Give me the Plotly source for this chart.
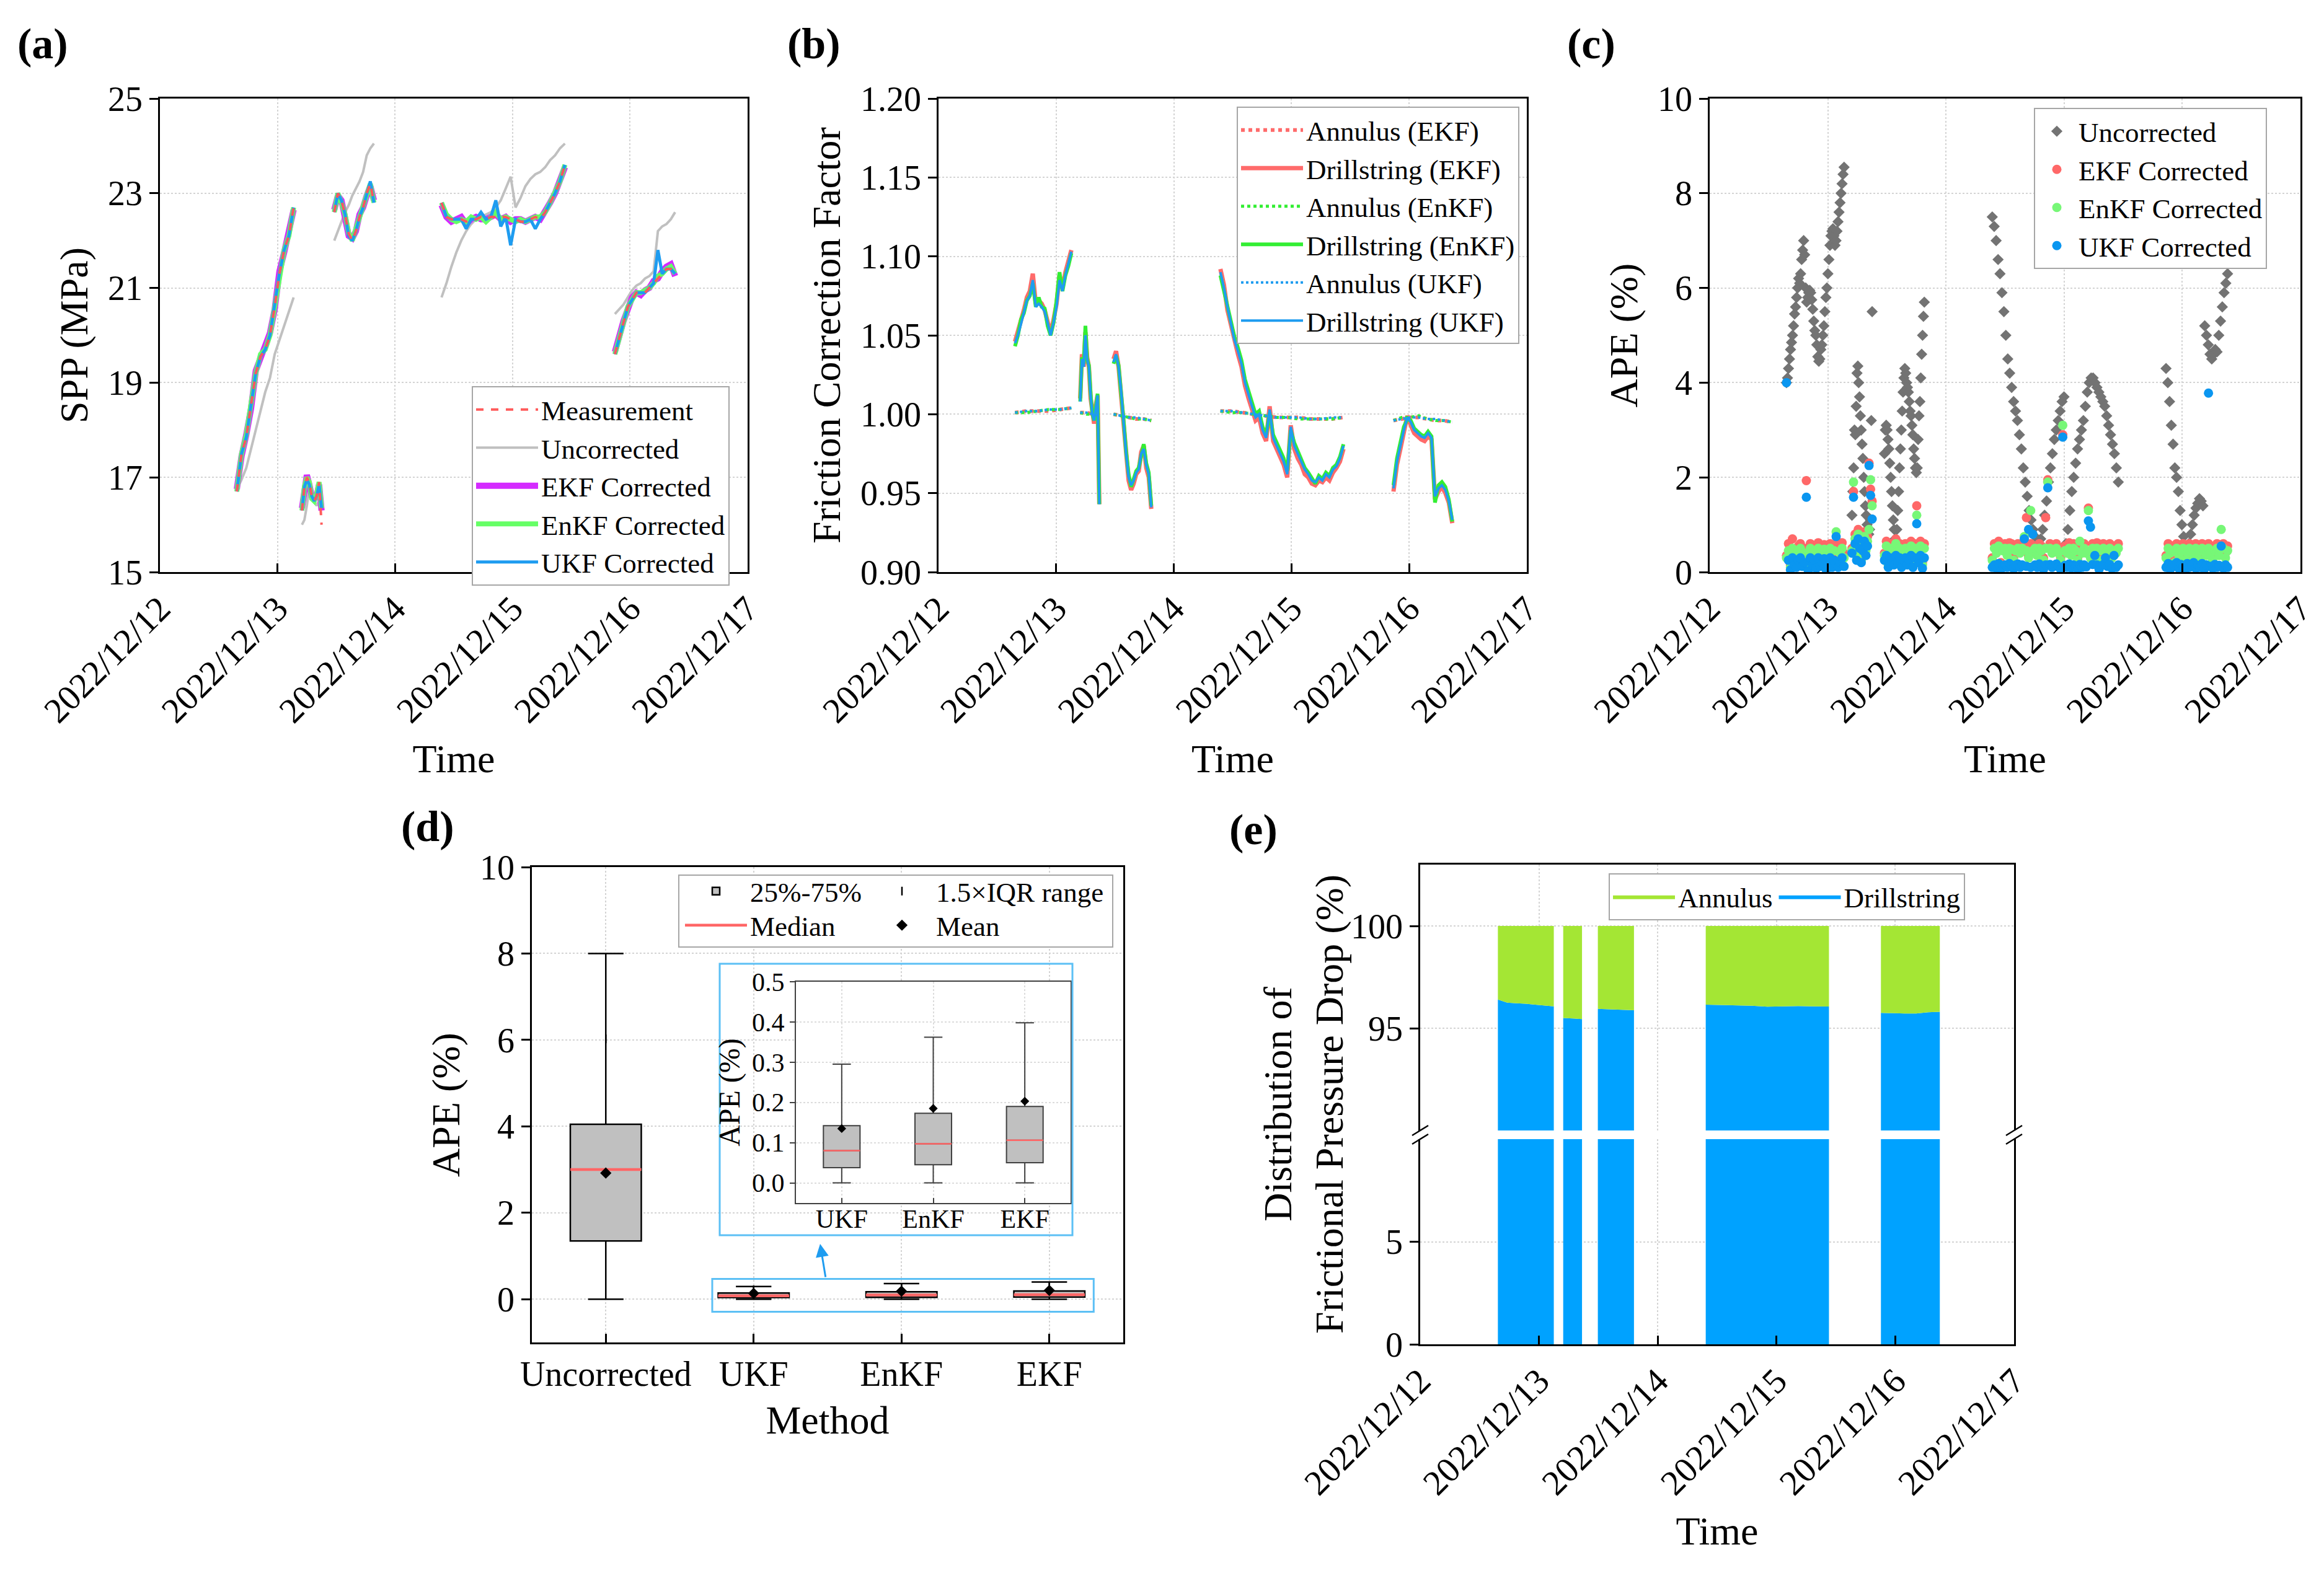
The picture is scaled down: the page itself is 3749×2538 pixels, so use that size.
import numpy as np
import pandas as pd
import plotly.graph_objects as go

FONT = "Liberation Serif"
BASE = pd.Timestamp("2022-12-12 00:00")
W, H = 3749, 2538

# ---------------- (a) SPP ----------------
# segments: (start hour, end hour) counted from 2022-12-12 00:00
spp_seg_hours = [(15.7, 27.3), (29.0, 33.0), (35.6, 43.7), (57.5, 82.7), (92.9, 105.2)]
spp_measurement = [
    [16.7, 17.5, 17.85, 18.5, 19.2, 19.55, 19.7, 20.0, 20.6, 21.3, 21.8, 22.1, 22.7],
    [16.3, 16.8, 17.0, 16.9, 16.6, 16.5, 16.6, 16.9, 16.0],
    [22.6, 23.0, 22.85, 22.55, 22.15, 22.0, 22.2, 22.5, 22.7, 23.0, 23.2, 22.8],
    [22.8, 22.5, 22.45, 22.45, 22.45, 22.4, 22.45, 22.45, 22.5, 22.45, 22.5, 22.5, 22.5,
     22.5, 22.45, 22.45, 22.4, 22.4, 22.45, 22.5, 22.45, 22.6, 22.8, 23.0, 23.25, 23.6],
    [19.6, 19.95, 20.3, 20.6, 20.75, 20.9, 20.9, 20.9, 21.0, 21.1, 21.2, 21.3, 21.4, 21.4, 21.3],
]
spp_uncorrected = [
    [16.75, 16.95, 17.2, 17.6, 18.0, 18.4, 18.8, 19.1, 19.6, 19.9, 20.2, 20.5, 20.8],
    [16.0, 16.1, 16.4, 16.8, 16.6, 16.5, 16.4, 16.5, 16.6],
    [22.0, 22.2, 22.4, 22.6, 22.75, 22.95, 23.1, 23.25, 23.45, 23.8, 23.95, 24.05],
    [20.8, 21.1, 21.45, 21.75, 22.0, 22.2, 22.35, 22.45, 22.5, 22.55, 22.6, 22.7, 22.85,
     23.1, 23.35, 22.7, 22.9, 23.15, 23.3, 23.4, 23.45, 23.55, 23.7, 23.8, 23.95, 24.05],
    [20.45, 20.55, 20.65, 20.8, 20.95, 21.05, 21.1, 21.2, 21.25, 21.35, 22.2, 22.3, 22.35, 22.45, 22.6],
]
spp_ekf = [
    [16.75, 17.45, 17.9, 18.45, 19.25, 19.5, 19.75, 20.05, 20.55, 21.35, 21.75, 22.15, 22.65],
    [16.35, 16.85, 17.05, 16.85, 16.6, 16.55, 16.6, 16.85, 16.3],
    [22.65, 22.95, 22.85, 22.5, 22.1, 22.05, 22.2, 22.55, 22.7, 22.95, 23.15, 22.85],
    [22.75, 22.5, 22.4, 22.45, 22.5, 22.35, 22.45, 22.5, 22.45, 22.45, 22.5, 22.55, 22.45,
     22.5, 22.4, 22.45, 22.45, 22.4, 22.45, 22.5, 22.45, 22.6, 22.8, 23.0, 23.25, 23.55],
    [19.65, 20.0, 20.3, 20.55, 20.8, 20.9, 20.85, 20.95, 21.0, 21.15, 21.2, 21.35, 21.45, 21.5, 21.25],
]
spp_enkf = [
    [16.7, 17.5, 17.9, 18.5, 19.2, 19.6, 19.7, 20.0, 20.65, 21.3, 21.8, 22.1, 22.7],
    [16.3, 16.8, 17.0, 16.9, 16.55, 16.5, 16.65, 16.9, 16.35],
    [22.6, 23.0, 22.8, 22.55, 22.15, 22.0, 22.25, 22.5, 22.75, 23.0, 23.2, 22.8],
    [22.8, 22.55, 22.45, 22.4, 22.45, 22.4, 22.5, 22.45, 22.5, 22.4, 22.5, 22.6, 22.45,
     22.5, 22.45, 22.4, 22.45, 22.4, 22.45, 22.5, 22.5, 22.6, 22.8, 23.0, 23.25, 23.6],
    [19.6, 19.95, 20.25, 20.6, 20.75, 20.9, 20.9, 20.95, 21.0, 21.1, 21.25, 21.3, 21.4, 21.45, 21.3],
]
spp_ukf = [
    [16.7, 17.5, 17.85, 18.5, 19.2, 19.55, 19.7, 20.0, 20.6, 21.3, 21.8, 22.1, 22.7],
    [16.3, 16.8, 16.95, 16.85, 16.6, 16.5, 16.6, 16.85, 16.35],
    [22.6, 23.0, 22.85, 22.55, 22.1, 22.0, 22.2, 22.5, 22.7, 23.0, 23.25, 22.8],
    [22.8, 22.5, 22.45, 22.45, 22.45, 22.25, 22.45, 22.45, 22.6, 22.45, 22.5, 22.85, 22.3,
     22.5, 21.9, 22.45, 22.4, 22.4, 22.45, 22.25, 22.45, 22.6, 22.8, 23.0, 23.25, 23.6],
    [19.6, 19.95, 20.3, 20.6, 20.75, 20.9, 20.9, 20.9, 21.0, 21.1, 21.8, 21.3, 21.4, 21.4, 21.3],
]

# ---------------- (b) Friction correction factor ----------------
fcf_seg_hours = [(15.6, 27.1), (28.9, 32.8), (35.7, 43.4), (57.5, 82.6), (92.8, 104.8)]
drill_ekf = [
    [1.046, 1.052, 1.058, 1.066, 1.074, 1.078, 1.089, 1.07, 1.072, 1.07, 1.066, 1.058, 1.051, 1.06, 1.07, 1.088, 1.08, 1.09, 1.096, 1.104],
    [1.01, 1.038, 1.03, 1.052, 1.036, 1.03, 1.01, 1.0, 0.994, 1.006, 1.012, 0.943],
    [1.035, 1.04, 1.03, 1.013, 0.993, 0.973, 0.958, 0.952, 0.956, 0.962, 0.964, 0.976, 0.98, 0.966, 0.96, 0.94],
    [1.092, 1.082, 1.066, 1.056, 1.045, 1.038, 1.03, 1.018, 1.01, 1.003, 0.996, 0.998, 0.988, 0.983, 1.005, 0.983, 0.978, 0.972,
     0.968, 0.96, 0.993, 0.978, 0.972, 0.968, 0.962, 0.96, 0.956, 0.955, 0.958, 0.957, 0.96, 0.958, 0.963, 0.966, 0.97, 0.978],
    [0.951, 0.968, 0.978, 0.988, 0.999, 0.993, 0.988, 0.986, 0.984, 0.983, 0.986, 0.984, 0.946, 0.951, 0.954, 0.95, 0.944, 0.931],
]
drill_enkf = [
    [1.043, 1.05, 1.06, 1.064, 1.072, 1.075, 1.083, 1.068, 1.074, 1.068, 1.067, 1.056, 1.05, 1.058, 1.072, 1.09, 1.078, 1.088, 1.094, 1.102],
    [1.008, 1.036, 1.032, 1.056, 1.035, 1.031, 1.013, 1.0, 0.996, 1.004, 1.013, 0.943],
    [1.032, 1.037, 1.031, 1.016, 0.996, 0.976, 0.962, 0.954, 0.959, 0.964, 0.966, 0.974, 0.981, 0.969, 0.963, 0.942],
    [1.088, 1.078, 1.07, 1.06, 1.049, 1.042, 1.034, 1.022, 1.014, 1.007, 1.0, 1.002, 0.992, 0.987, 1.001, 0.987, 0.982, 0.977,
     0.972, 0.964, 0.99, 0.982, 0.977, 0.972, 0.966, 0.963, 0.959, 0.956, 0.961, 0.959, 0.963, 0.961, 0.966, 0.968, 0.973, 0.981],
    [0.955, 0.972, 0.982, 0.992, 0.997, 0.996, 0.991, 0.989, 0.987, 0.986, 0.989, 0.986, 0.944, 0.955, 0.957, 0.954, 0.946, 0.932],
]
drill_ukf = [
    [1.045, 1.05, 1.057, 1.065, 1.072, 1.075, 1.085, 1.068, 1.07, 1.068, 1.065, 1.058, 1.05, 1.058, 1.068, 1.085, 1.078, 1.088, 1.095, 1.103],
    [1.008, 1.035, 1.03, 1.05, 1.035, 1.03, 1.012, 1.0, 0.996, 1.005, 1.012, 0.943],
    [1.033, 1.038, 1.03, 1.015, 0.995, 0.975, 0.96, 0.955, 0.958, 0.963, 0.965, 0.975, 0.978, 0.968, 0.962, 0.941],
    [1.09, 1.08, 1.068, 1.058, 1.047, 1.04, 1.032, 1.02, 1.012, 1.005, 0.998, 1.0, 0.99, 0.985, 1.003, 0.985, 0.98, 0.975,
     0.97, 0.962, 0.992, 0.98, 0.975, 0.97, 0.965, 0.962, 0.958, 0.957, 0.96, 0.958, 0.962, 0.96, 0.965, 0.967, 0.972, 0.98],
    [0.953, 0.97, 0.98, 0.99, 0.998, 0.995, 0.99, 0.988, 0.986, 0.985, 0.988, 0.985, 0.948, 0.953, 0.955, 0.952, 0.945, 0.933],
]
annulus_ekf = [
    [1.001, 1.002, 1.002, 1.002, 1.003, 1.004],
    [1.001, 1.001, 1.0, 1.0],
    [1.0, 0.999, 0.998, 0.997, 0.997, 0.996],
    [1.002, 1.002, 1.001, 1.0, 0.999, 0.998, 0.998, 0.998, 0.997, 0.997, 0.997, 0.998],
    [0.996, 0.997, 0.998, 0.998, 0.997, 0.996, 0.996, 0.995],
]
annulus_enkf = [
    [1.001, 1.001, 1.002, 1.003, 1.003, 1.004],
    [1.001, 1.0, 1.0, 1.0],
    [1.0, 0.999, 0.998, 0.997, 0.997, 0.996],
    [1.002, 1.001, 1.001, 1.0, 0.999, 0.998, 0.998, 0.997, 0.997, 0.997, 0.997, 0.998],
    [0.996, 0.998, 0.998, 0.999, 0.997, 0.996, 0.996, 0.995],
]
annulus_ukf = [
    [1.001, 1.002, 1.002, 1.003, 1.003, 1.004],
    [1.001, 1.001, 1.0, 0.999],
    [1.0, 0.999, 0.998, 0.998, 0.997, 0.996],
    [1.002, 1.002, 1.001, 1.0, 0.999, 0.998, 0.998, 0.998, 0.997, 0.997, 0.998, 0.998],
    [0.996, 0.997, 0.998, 0.998, 0.997, 0.997, 0.996, 0.995],
]

# ---------------- (c) APE scatter ----------------
ape_seg_hours = [(15.6, 27.3), (28.9, 33.0), (35.5, 43.6), (57.4, 83.0), (92.7, 105.2)]
ape_uncorrected = [
    [4.0, 4.1, 4.3, 4.5, 4.7, 4.85, 5.0, 5.2, 5.45, 5.6, 5.8, 6.0, 6.2, 6.1, 6.3, 6.6, 6.8, 7.0, 6.7, 6.0,
     5.7, 5.8, 5.9, 5.95, 5.9, 5.75, 5.55, 5.3, 5.1, 5.0, 4.8, 4.55, 4.45, 4.5, 4.7, 4.8, 5.0, 5.2, 5.5, 5.8,
     6.0, 6.3, 6.6, 6.9, 7.1, 7.2, 7.25, 7.1, 6.9, 7.0, 7.2, 7.4, 7.6, 7.8, 8.0, 8.2, 8.4, 8.55],
    [1.2, 1.7, 2.2, 3.0, 2.9, 3.5, 4.2, 4.35, 4.0, 3.7, 3.3, 3.0, 2.7, 2.4, 2.0, 1.7, 1.4, 1.2, 1.0, 0.9,
     0.8, 0.9, 1.1, 3.2, 5.5],
    [2.5, 3.0, 3.1, 3.0, 2.8, 2.6, 2.3, 2.0, 1.7, 1.4, 1.1, 0.9, 0.7, 0.6, 0.9, 1.3, 1.7, 2.2, 2.6, 3.0,
     3.4, 3.8, 4.1, 4.3, 4.2, 4.0, 3.9, 3.8, 3.6, 3.4, 3.3, 3.1, 2.9, 2.6, 2.4, 2.2, 2.1, 2.2, 2.8, 3.3,
     3.6, 4.1, 4.6, 5.0, 5.4, 5.7],
    [7.5, 7.3, 7.0, 6.6, 6.3, 5.9, 5.5, 5.0, 4.5, 4.2, 3.9, 3.6, 3.4, 3.2, 2.9, 2.6, 2.2, 1.9, 1.6, 1.3,
     1.1, 0.9, 0.75, 0.65, 0.6, 0.7, 0.9, 1.2, 1.5, 1.9, 2.2, 2.5, 2.8, 3.0, 3.2, 3.4, 3.6, 3.7, 0.6, 0.9,
     1.3, 1.7, 2.0, 2.3, 2.6, 2.8, 3.0, 3.2, 3.5, 3.8, 4.0, 4.1, 4.1, 4.0, 3.9, 3.8, 3.7, 3.6, 3.5, 3.3,
     3.1, 2.9, 2.7, 2.5, 2.2, 1.9],
    [4.3, 4.0, 3.6, 3.1, 2.7, 2.2, 2.0, 1.7, 1.3, 1.0, 0.75, 0.55, 0.5, 0.6, 0.8, 1.0, 1.2, 1.35, 1.45, 1.55,
     1.5, 1.4, 5.2, 5.0, 4.8, 4.6, 4.5, 4.6, 4.7, 4.65, 5.0, 5.3, 5.6, 5.9, 6.1, 6.3],
]
ape_ekf = [
    [0.35, 0.6, 0.15, 0.7, 0.45, 0.25, 0.55, 0.6, 0.3, 0.5, 1.93, 0.1, 0.6, 0.4, 0.55, 0.2, 0.62, 0.35, 0.5, 0.58,
     0.15, 0.45, 0.6, 0.3, 0.55, 0.6, 0.25, 0.5, 0.62, 0.4],
    [0.5, 1.7, 0.8, 0.4, 0.9, 0.7, 0.3, 0.6, 0.85, 0.5, 0.75, 2.3, 1.75, 1.5],
    [0.4, 0.65, 0.2, 0.6, 0.55, 0.3, 0.7, 0.45, 0.6, 0.25, 0.55, 0.6, 0.35, 0.5, 0.65, 0.3, 0.6, 1.4, 0.45, 0.65, 0.2, 0.6],
    [0.3, 0.6, 0.5, 0.65, 0.2, 0.55, 0.6, 0.4, 0.62, 0.6, 0.3, 0.55, 0.6, 0.45, 0.6, 0.5, 1.15, 0.35, 0.6, 0.5,
     0.55, 0.4, 0.6, 0.55, 0.3, 1.15, 1.95, 0.6, 0.5, 0.55, 0.6, 0.45, 0.3, 2.9, 0.55, 0.5, 0.62, 0.4, 0.6, 0.55,
     0.3, 0.6, 0.5, 0.6, 0.45, 1.35, 0.35, 0.6, 0.5, 0.62, 0.3, 0.55, 0.6, 0.45, 0.5, 0.6, 0.35, 0.55, 0.5, 0.6],
    [0.35, 0.6, 0.5, 0.55, 0.25, 0.6, 0.45, 0.55, 0.6, 0.3, 0.5, 0.6, 0.55, 0.4, 0.6, 0.5, 0.35, 0.6, 0.55, 0.45,
     0.6, 0.5, 0.3, 0.55, 0.6, 0.45, 0.5, 0.6, 0.4, 0.55],
]
ape_enkf = [
    [0.3, 0.45, 0.1, 0.5, 0.35, 0.2, 0.45, 0.5, 0.25, 0.4, 0.3, 0.05, 0.5, 0.35, 0.45, 0.15, 0.5, 0.3, 0.4, 0.48,
     0.1, 0.35, 0.5, 0.25, 0.45, 0.85, 0.2, 0.4, 0.5, 0.3],
    [0.45, 1.9, 0.7, 0.35, 0.8, 0.6, 0.25, 0.5, 0.75, 0.45, 0.65, 0.9, 1.95, 1.4],
    [0.35, 0.55, 0.15, 0.5, 0.45, 0.25, 0.6, 0.4, 0.5, 0.2, 0.45, 0.5, 0.3, 0.45, 0.55, 0.25, 0.5, 1.2, 0.4, 0.55, 0.15, 0.5],
    [0.25, 0.5, 0.4, 0.55, 0.15, 0.45, 0.5, 0.35, 0.5, 0.48, 0.25, 0.45, 0.5, 0.4, 0.5, 0.75, 0.45, 0.3, 1.3, 0.45,
     0.5, 0.35, 0.5, 0.45, 0.25, 0.5, 1.9, 0.5, 0.4, 0.45, 0.5, 0.4, 0.25, 3.1, 0.45, 0.4, 0.5, 0.35, 0.5, 0.45,
     0.25, 0.65, 0.4, 0.5, 0.4, 1.3, 0.3, 0.5, 0.4, 0.5, 0.25, 0.45, 0.5, 0.4, 0.45, 0.5, 0.3, 0.45, 0.4, 0.5],
    [0.3, 0.5, 0.4, 0.45, 0.2, 0.5, 0.35, 0.45, 0.5, 0.25, 0.4, 0.5, 0.45, 0.3, 0.5, 0.4, 0.25, 0.5, 0.45, 0.35,
     0.5, 0.4, 0.25, 0.45, 0.5, 0.35, 0.9, 0.5, 0.3, 0.45],
]
ape_ukf = [
    [4.0, 0.25, 0.05, 0.3, 0.15, 0.1, 0.25, 0.3, 0.12, 0.2, 1.58, 0.03, 0.3, 0.15, 0.25, 0.08, 0.3, 0.12, 0.2, 0.28,
     0.05, 0.15, 0.3, 0.1, 0.25, 0.75, 0.1, 0.2, 0.3, 0.12],
    [0.4, 1.58, 0.6, 0.25, 0.7, 0.5, 0.2, 0.45, 0.65, 0.35, 0.55, 2.25, 1.62, 1.12],
    [0.25, 0.35, 0.1, 0.3, 0.25, 0.15, 0.35, 0.2, 0.3, 0.1, 0.25, 0.3, 0.15, 0.25, 0.35, 0.1, 0.3, 1.02, 0.2, 0.35, 0.08, 0.3],
    [0.1, 0.15, 0.08, 0.18, 0.05, 0.12, 0.15, 0.1, 0.18, 0.14, 0.07, 0.15, 0.17, 0.1, 0.15, 0.7, 0.12, 0.9, 0.1, 0.8,
     0.15, 0.1, 0.17, 0.12, 0.06, 0.15, 1.78, 0.16, 0.1, 0.13, 0.17, 0.11, 0.06, 2.85, 0.14, 0.1, 0.17, 0.09, 0.15, 0.12,
     0.06, 0.16, 0.1, 0.15, 0.11, 1.08, 0.95, 0.16, 0.35, 0.15, 0.06, 0.13, 0.16, 0.3, 0.12, 0.16, 0.08, 0.35, 0.1, 0.15],
    [0.1, 0.18, 0.06, 0.15, 0.12, 0.2, 0.08, 0.16, 0.12, 0.05, 0.18, 0.1, 0.15, 0.2, 0.08, 0.14, 0.1, 0.18, 0.06, 0.15,
     3.78, 0.12, 0.08, 0.16, 0.1, 0.14, 0.55, 0.08, 0.15, 0.1],
]

# ---------------- (d) APE box statistics ----------------
methods = ["Uncorrected", "UKF", "EnKF", "EKF"]
box_q1 = [1.35, 0.038, 0.045, 0.05]
box_median = [3.0, 0.08, 0.097, 0.106]
box_q3 = [4.05, 0.142, 0.173, 0.19]
box_lower = [0.0, 0.0, 0.0, 0.0]
box_upper = [8.0, 0.295, 0.362, 0.398]
box_mean = [2.92, 0.135, 0.185, 0.203]

# ---------------- (e) frictional pressure drop distribution ----------------
dist_seg_hours = [(15.7, 27.0), (28.9, 32.7), (35.9, 43.2), (57.7, 82.6), (93.1, 105.0)]
dist_drillstring = [
    [96.4, 96.25, 96.22, 96.2, 96.15, 96.1, 96.07],
    [95.5, 95.48, 95.45],
    [95.95, 95.92, 95.9, 95.88],
    [96.15, 96.13, 96.12, 96.1, 96.05, 96.07, 96.08, 96.07, 96.06],
    [95.75, 95.73, 95.72, 95.72, 95.78, 95.8],
]
dist_total = 100.0

# ---------------- helpers ----------------
def px(x):
    return x / W


def py(y):
    return 1 - y / H


def seg_times(h0, h1, n):
    return list(BASE + pd.to_timedelta(np.linspace(h0, h1, n), unit="h"))


def seg_xy(seg_hours, seg_vals):
    xs, ys = [], []
    for (h0, h1), vals in zip(seg_hours, seg_vals):
        xs.extend(seg_times(h0, h1, len(vals)))
        ys.extend(vals)
        xs.append(None)
        ys.append(None)
    return xs, ys


fig = go.Figure()

# ---- (a) traces
a_styles = [
    ("Uncorrected", spp_uncorrected, dict(color="#c0c0c0", width=4), 2),
    ("EKF Corrected", spp_ekf, dict(color="#d42bff", width=10), 3),
    ("EnKF Corrected", spp_enkf, dict(color="#66ff66", width=8), 4),
    ("UKF Corrected", spp_ukf, dict(color="#1e9cf0", width=5), 5),
    ("Measurement", spp_measurement, dict(color="#ff5a5a", width=4, dash="dash"), 1),
]
for name, vals, line, rank in a_styles:
    x, y = seg_xy(spp_seg_hours, vals)
    fig.add_trace(go.Scatter(x=x, y=y, mode="lines", name=name, line=line, legendrank=rank,
                             xaxis="x", yaxis="y", legend="legend"))

# ---- (b) traces
b_styles = [
    ("Annulus (EKF)", annulus_ekf, "#ff6b6b", "dot", 6, 1),
    ("Drillstring (EKF)", drill_ekf, "#ff6b6b", "solid", 7, 2),
    ("Annulus (EnKF)", annulus_enkf, "#33ee33", "dot", 5, 3),
    ("Drillstring (EnKF)", drill_enkf, "#33ee33", "solid", 6, 4),
    ("Annulus (UKF)", annulus_ukf, "#1e9cf0", "dot", 4, 5),
    ("Drillstring (UKF)", drill_ukf, "#1e9cf0", "solid", 4, 6),
]
for name, vals, color, dash, width, rank in b_styles:
    x, y = seg_xy(fcf_seg_hours, vals)
    fig.add_trace(go.Scatter(x=x, y=y, mode="lines", name=name,
                             line=dict(color=color, dash=dash, width=width), legendrank=rank,
                             xaxis="x2", yaxis="y2", legend="legend2"))

# ---- (c) traces
c_styles = [
    ("Uncorrected", ape_uncorrected, "#737373", "diamond", 14),
    ("EKF Corrected", ape_ekf, "#ff6868", "circle", 15),
    ("EnKF Corrected", ape_enkf, "#77f777", "circle", 15),
    ("UKF Corrected", ape_ukf, "#0a96f0", "circle", 15),
]
for name, vals, color, sym, size in c_styles:
    x, y = seg_xy(ape_seg_hours, vals)
    fig.add_trace(go.Scatter(x=x, y=y, mode="markers", name=name,
                             marker=dict(color=color, symbol=sym, size=size, line=dict(width=0)),
                             xaxis="x3", yaxis="y3", legend="legend3"))

# ---- (d) main box plot
pos_main = list(range(len(methods)))
fig.add_trace(go.Box(x=pos_main, q1=box_q1, median=box_median, q3=box_q3,
                     lowerfence=box_lower, upperfence=box_upper, boxpoints=False,
                     width=0.48, whiskerwidth=0.5, fillcolor="#c0c0c0",
                     line=dict(color="black", width=2.5), name="25%-75%",
                     xaxis="x4", yaxis="y4", legend="legend4"))
fig.add_trace(go.Scatter(x=pos_main, y=[(a + b) / 2 for a, b in zip(box_q3, box_upper)],
                         mode="markers", name="1.5×IQR range",
                         marker=dict(symbol="line-ns", size=10, color="black",
                                     line=dict(width=2.5, color="black")),
                         xaxis="x4", yaxis="y4", legend="legend5"))
mx, my = [], []
for p, m in zip(pos_main, box_median):
    mx += [p - 0.24, p + 0.24, None]
    my += [m, m, None]
fig.add_trace(go.Scatter(x=mx, y=my, mode="lines", name="Median",
                         line=dict(color="#ff6666", width=4.5),
                         xaxis="x4", yaxis="y4", legend="legend6"))
fig.add_trace(go.Scatter(x=pos_main, y=box_mean, mode="markers", name="Mean",
                         marker=dict(symbol="diamond", size=14, color="black"),
                         xaxis="x4", yaxis="y4", legend="legend7"))

# ---- (d) inset
pos_in = list(range(len(methods) - 1))
fig.add_trace(go.Box(x=pos_in, q1=box_q1[1:], median=box_median[1:], q3=box_q3[1:],
                     lowerfence=box_lower[1:], upperfence=box_upper[1:], boxpoints=False,
                     width=0.4, whiskerwidth=0.5, fillcolor="#c0c0c0",
                     line=dict(color="#404040", width=2), showlegend=False,
                     xaxis="x5", yaxis="y5"))
ix, iy = [], []
for p, m in zip(pos_in, box_median[1:]):
    ix += [p - 0.2, p + 0.2, None]
    iy += [m, m, None]
fig.add_trace(go.Scatter(x=ix, y=iy, mode="lines", line=dict(color="#ff6666", width=2.5),
                         showlegend=False, xaxis="x5", yaxis="y5"))
fig.add_trace(go.Scatter(x=pos_in, y=box_mean[1:], mode="markers",
                         marker=dict(symbol="diamond", size=11, color="black"),
                         showlegend=False, xaxis="x5", yaxis="y5"))

# ---- (e) stacked distribution (drillstring filled to zero, annulus filled up to 100 %)
for i, ((h0, h1), drill) in enumerate(zip(dist_seg_hours, dist_drillstring)):
    t = seg_times(h0, h1, len(drill))
    fig.add_trace(go.Scatter(x=t, y=drill, fill="tozeroy", mode="lines",
                             line=dict(width=0, color="#00a2ff"), fillcolor="#00a2ff",
                             showlegend=False, xaxis="x6", yaxis="y6"))
    fig.add_trace(go.Scatter(x=t, y=drill, fill="tozeroy", mode="lines",
                             line=dict(width=0, color="#00a2ff"), fillcolor="#00a2ff",
                             name="Drillstring", legendgroup="drill", showlegend=(i == 0),
                             legendrank=2, xaxis="x7", yaxis="y7", legend="legend8"))
    fig.add_trace(go.Scatter(x=t, y=[dist_total] * len(drill), fill="tonexty", mode="lines",
                             line=dict(width=0, color="#a4e634"), fillcolor="#a4e634",
                             name="Annulus", legendgroup="ann", showlegend=(i == 0),
                             legendrank=1, xaxis="x7", yaxis="y7", legend="legend8"))

# ---------------- layout ----------------
tickfont = dict(family=FONT, size=56, color="black")
titlefont = dict(family=FONT, size=64, color="black")
grid = dict(showgrid=True, gridcolor="#d4d4d4", griddash="dot", gridwidth=2, zeroline=False)
frame = dict(showline=True, linecolor="black", linewidth=2.5, mirror=True)
date_range = [BASE, BASE + pd.Timedelta(days=5)]


def date_axis(domain, anchor, **kw):
    d = dict(domain=domain, anchor=anchor, type="date", range=date_range, tick0=BASE,
             dtick=86400000, tickformat="%Y/%m/%d", tickangle=-45, ticks="inside", ticklen=14,
             tickwidth=2.5, tickcolor="black", tickfont=dict(family=FONT, size=57, color="black"),
             title=dict(text="Time", font=titlefont, standoff=25), automargin=False, **grid, **frame)
    d.update(kw)
    return d


def val_axis(domain, anchor, rng, dtick, title, fmt=None, **kw):
    d = dict(domain=domain, anchor=anchor, range=rng, dtick=dtick, ticks="outside", ticklen=14,
             tickwidth=2.5, tickcolor="black", tickfont=tickfont, automargin=False,
             title=dict(text=title, font=titlefont, standoff=12), **grid, **frame)
    if fmt:
        d["tickformat"] = fmt
    d.update(kw)
    return d


A_X = [px(250), px(1198)]
B_X = [px(1506), px(2455)]
C_X = [px(2750), px(3703)]
TOP_Y = [py(915), py(151)]
D_X = [px(850), px(1804)]
D_Y = [py(2158), py(1391)]
IN_X = [px(1276), px(1719)]
IN_Y = [py(1933), py(1576)]
E_X = [px(2283), px(3241)]
E_UP = [py(1816), py(1387)]
E_LO = [py(2161), py(1830)]

legend_common = dict(bgcolor="white", bordercolor="#a6a6a6", borderwidth=2,
                     font=dict(family=FONT, size=45, color="black"), tracegroupgap=0,
                     xanchor="left", yanchor="top")
legend_plain = {**legend_common, "borderwidth": 0, "bgcolor": "rgba(0,0,0,0)", "itemwidth": 100}

fig.update_layout(
    width=W, height=H, margin=dict(l=0, r=0, t=0, b=0, autoexpand=False),
    paper_bgcolor="white", plot_bgcolor="white", boxmode="overlay",
    xaxis=date_axis(A_X, "y"),
    yaxis=val_axis(TOP_Y, "x", [15, 25], 2, "SPP (MPa)", tick0=15),
    xaxis2=date_axis(B_X, "y2"),
    yaxis2=val_axis(TOP_Y, "x2", [0.9, 1.2], 0.05, "Friction Correction Factor", fmt=".2f"),
    xaxis3=date_axis(C_X, "y3"),
    yaxis3=val_axis(TOP_Y, "x3", [0, 10], 2, "APE (%)"),
    xaxis4=dict(domain=D_X, anchor="y4", range=[-0.5, 3.5], tickvals=pos_main, ticktext=methods,
                ticks="inside", ticklen=14, tickwidth=2.5, tickcolor="black", tickfont=tickfont,
                automargin=False,
                title=dict(text="Method", font=titlefont, standoff=22), **grid, **frame),
    yaxis4=val_axis(D_Y, "x4", [-1, 10], 2, "APE (%)"),
    xaxis5=dict(domain=IN_X, anchor="y5", range=[-0.5, 2.5], tickvals=pos_in, ticktext=methods[1:],
                ticks="inside", ticklen=8, tickwidth=2, tickcolor="#404040", automargin=False,
                tickfont=dict(family=FONT, size=42, color="black"), ticklabelstandoff=-12,
                showgrid=True, gridcolor="#dcdcdc", griddash="dot", gridwidth=1.5, zeroline=False,
                showline=True, linecolor="#404040", linewidth=2, mirror=True),
    yaxis5=dict(domain=IN_Y, anchor="x5", range=[-0.05, 0.5], dtick=0.1, tickformat=".1f",
                ticks="outside", ticklen=8, tickwidth=2, tickcolor="#404040", automargin=False,
                tickfont=dict(family=FONT, size=42, color="black"),
                title=dict(text="APE (%)", font=dict(family=FONT, size=48, color="black"), standoff=4),
                showgrid=True, gridcolor="#dcdcdc", griddash="dot", gridwidth=1.5, zeroline=False,
                showline=True, linecolor="#404040", linewidth=2, mirror=True),
    xaxis6=date_axis(E_X, "y6", mirror=False),
    yaxis6=val_axis(E_LO, "x6", [0, 10], None, "", tickvals=[0, 5]),
    xaxis7=dict(domain=E_X, anchor="y7", matches="x6", type="date", side="top", showticklabels=False,
                ticks="", showline=True, linecolor="black", linewidth=2.5, mirror=False,
                automargin=False, tick0=BASE, dtick=86400000, **grid),
    yaxis7=val_axis(E_UP, "x7", [90, 103], None, "", tickvals=[95, 100]),
    legend=dict(x=px(753), y=py(615), itemwidth=100, **legend_common),
    legend2=dict(x=px(1987), y=py(164), itemwidth=100, **legend_common),
    legend3=dict(x=px(3273), y=py(166), itemwidth=60, **legend_common),
    legend4=dict(x=px(1092), y=py(1394), **legend_plain),
    legend5=dict(x=px(1392), y=py(1394), **legend_plain),
    legend6=dict(x=px(1092), y=py(1449), **legend_plain),
    legend7=dict(x=px(1392), y=py(1449), **legend_plain),
    legend8=dict(x=px(2587), y=py(1401), orientation="h", itemwidth=100,
                 traceorder="normal", **legend_common),
)

# panel labels
for lbl, x, y in [("(a)", 18, 62), ("(b)", 1260, 62), ("(c)", 2518, 62), ("(d)", 637, 1325), ("(e)", 1973, 1330)]:
    fig.add_annotation(text=f"<b>{lbl}</b>", x=px(x), y=py(y), xref="paper", yref="paper",
                       xanchor="left", yanchor="middle", showarrow=False,
                       font=dict(family=FONT, size=70, color="black"))

# (e) y-axis title spanning both broken parts
fig.add_annotation(text="Distribution of<br>Frictional Pressure Drop (%)", x=px(2095), y=py(1774),
                   xref="paper", yref="paper", textangle=-90, showarrow=False,
                   xanchor="center", yanchor="middle", font=titlefont)

# (d) legend frame, inset frame, zoom rectangle and arrow
fig.add_shape(type="rect", xref="paper", yref="paper", x0=px(1087), x1=px(1787), y0=py(1520), y1=py(1404),
              line=dict(color="#a6a6a6", width=2), fillcolor="white", layer="above")
fig.add_shape(type="rect", xref="paper", yref="paper", x0=px(1153), x1=px(1722), y0=py(1985), y1=py(1547),
              line=dict(color="#5cc0f5", width=3), layer="above")
fig.add_shape(type="rect", xref="x4", yref="y4", x0=0.72, x1=3.30, y0=-0.29, y1=0.47,
              line=dict(color="#5cc0f5", width=3), layer="above")
fig.add_annotation(x=px(1315), y=py(1999), xref="paper", yref="paper", ax=9, ay=55,
                   showarrow=True, arrowhead=2, arrowsize=1.4, arrowwidth=3, arrowcolor="#1e9cf0", text="")

# (e) axis break marks
for xb in (2283, 3241):
    for yb in (1816, 1830):
        fig.add_shape(type="line", xref="paper", yref="paper", x0=px(xb - 13), y0=py(yb + 8),
                      x1=px(xb + 13), y1=py(yb - 8), line=dict(color="black", width=2.5))

fig.write_html("out.html")
